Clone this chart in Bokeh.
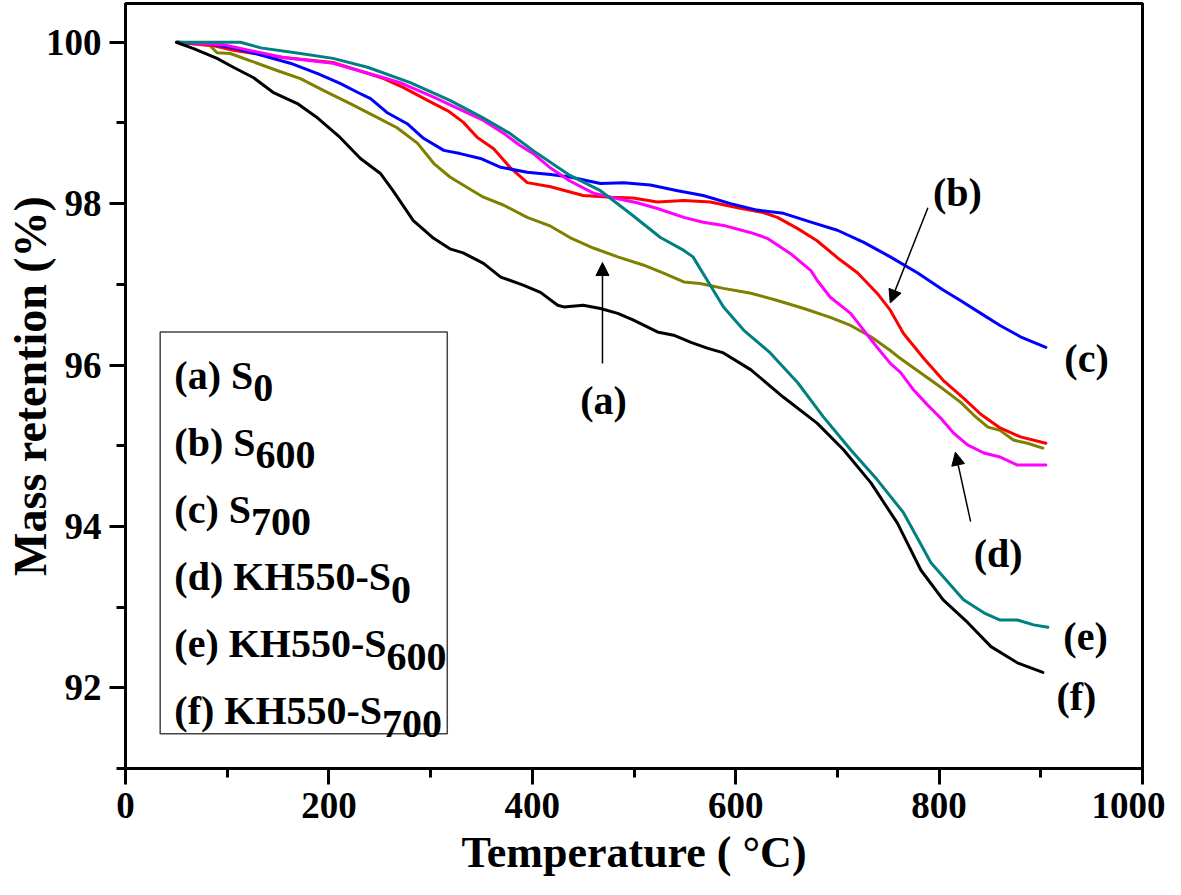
import math
from bokeh.plotting import figure
from bokeh.models import (Range1d, SingleIntervalTicker, Label, BoxAnnotation,
                          Arrow, NormalHead)
from bokeh.embed import file_html
from bokeh.resources import INLINE

# ---------------- data ----------------
temp_a = [51, 83, 90, 103, 123, 149, 172, 195, 221, 244, 267, 287, 303, 319, 336, 352, 372, 395, 418, 437,
          460, 484, 509, 529, 549, 565, 588, 615, 641, 667, 693, 713, 733, 752, 762, 782, 801, 821, 834, 848,
          860, 873, 887, 902]
mass_a = [100.00, 99.96, 99.87, 99.86, 99.77, 99.65, 99.55, 99.40, 99.24, 99.09, 98.94, 98.75, 98.50, 98.33,
          98.20, 98.08, 97.98, 97.83, 97.72, 97.58, 97.45, 97.34, 97.24, 97.14, 97.03, 97.01, 96.95, 96.89,
          96.80, 96.70, 96.59, 96.49, 96.35, 96.18, 96.08, 95.90, 95.73, 95.54, 95.38, 95.23, 95.19, 95.07,
          95.03, 94.97]

temp_b = [51, 86, 106, 155, 204, 254, 273, 297, 317, 332, 346, 362, 378, 395, 418, 450, 477, 499, 523, 549,
          575, 602, 627, 641, 661, 680, 700, 720, 739, 752, 765, 785, 804, 824, 841, 860, 880, 905]
mass_b = [100.00, 99.96, 99.90, 99.81, 99.75, 99.55, 99.44, 99.28, 99.15, 99.01, 98.82, 98.68, 98.45, 98.26,
          98.21, 98.10, 98.08, 98.07, 98.02, 98.04, 98.02, 97.95, 97.89, 97.83, 97.69, 97.54, 97.33, 97.14,
          96.89, 96.68, 96.39, 96.08, 95.81, 95.59, 95.39, 95.22, 95.11, 95.03]

temp_c = [51, 83, 110, 133, 162, 189, 211, 228, 241, 257, 277, 293, 313, 329, 349, 369, 395, 418, 437, 467,
          490, 516, 543, 568, 595, 621, 647, 674, 700, 726, 752, 779, 804, 821, 841, 860, 880, 905]
mass_c = [100.00, 99.98, 99.92, 99.84, 99.74, 99.61, 99.49, 99.38, 99.30, 99.13, 98.99, 98.81, 98.66, 98.62,
          98.56, 98.45, 98.39, 98.36, 98.33, 98.25, 98.26, 98.23, 98.16, 98.10, 98.00, 97.92, 97.88, 97.77,
          97.67, 97.52, 97.34, 97.14, 96.93, 96.80, 96.64, 96.49, 96.35, 96.22]

temp_d = [51, 96, 155, 204, 254, 270, 303, 332, 352, 372, 388, 401, 418, 437, 460, 484, 503, 523, 549, 568,
          588, 615, 631, 654, 674, 680, 693, 713, 726, 739, 752, 762, 775, 789, 801, 814, 828, 844, 860, 877,
          893, 905]
mass_d = [100.00, 99.97, 99.81, 99.74, 99.56, 99.50, 99.32, 99.15, 99.03, 98.87, 98.72, 98.62, 98.44, 98.28,
          98.13, 98.06, 98.01, 97.94, 97.83, 97.77, 97.73, 97.64, 97.57, 97.38, 97.17, 97.05, 96.84, 96.64,
          96.43, 96.22, 96.02, 95.91, 95.69, 95.50, 95.35, 95.16, 95.01, 94.91, 94.86, 94.76, 94.76, 94.76]

temp_e = [51, 113, 133, 172, 204, 238, 280, 319, 352, 378, 405, 437, 467, 496, 526, 549, 558, 572, 588, 608,
          634, 661, 686, 713, 739, 765, 792, 824, 844, 860, 877, 893, 907]
mass_e = [100.00, 100.00, 99.93, 99.86, 99.80, 99.69, 99.50, 99.28, 99.06, 98.87, 98.62, 98.35, 98.16, 97.88,
          97.58, 97.42, 97.34, 97.05, 96.72, 96.43, 96.15, 95.78, 95.36, 94.95, 94.58, 94.17, 93.55, 93.09,
          92.93, 92.84, 92.84, 92.78, 92.75]

temp_f = [50, 67, 90, 106, 126, 145, 169, 189, 211, 231, 251, 263, 283, 303, 319, 332, 352, 369, 391, 408,
          425, 431, 450, 467, 484, 499, 523, 539, 556, 572, 588, 615, 647, 680, 706, 733, 759, 782, 804, 828,
          851, 877, 902]
mass_f = [100.00, 99.92, 99.80, 99.69, 99.56, 99.38, 99.24, 99.06, 98.82, 98.56, 98.37, 98.16, 97.79, 97.57,
          97.44, 97.39, 97.26, 97.09, 96.99, 96.90, 96.74, 96.72, 96.74, 96.70, 96.64, 96.56, 96.41, 96.37,
          96.28, 96.21, 96.15, 95.94, 95.60, 95.28, 94.95, 94.54, 94.04, 93.46, 93.09, 92.81, 92.51, 92.31,
          92.19]

series_tags = ["(a)", "(b)", "(c)", "(d)", "(e)", "(f)"]
legend_main = ["(a) S", "(b) S", "(c) S", "(d) KH550-S", "(e) KH550-S", "(f) KH550-S"]
legend_sub = ["0", "600", "700", "0", "600", "700"]
colors = ["#808000", "#FF0000", "#0000FF", "#FF00FF", "#008080", "#000000"]

x_title = "Temperature ( °C)"
y_title = "Mass retention (%)"

FONT = "Liberation Serif"

# ---------------- figure ----------------
p = figure(width=1165, height=879, output_backend="svg", toolbar_location=None,
           x_range=Range1d(0, 1000), y_range=Range1d(91, 100.48),
           min_border_left=125, min_border_right=23, min_border_top=3, min_border_bottom=110)
p.grid.visible = False
p.background_fill_color = "white"
p.border_fill_color = "white"
p.outline_line_color = "black"
p.outline_line_width = 3
p.outline_line_alpha = 1

p.xaxis.ticker = SingleIntervalTicker(interval=200, num_minor_ticks=2)
p.yaxis.ticker = SingleIntervalTicker(interval=2, num_minor_ticks=2)
for ax in (p.xaxis, p.yaxis):
    ax.axis_line_width = 3
    ax.axis_line_color = "black"
    ax.major_tick_line_width = 3
    ax.minor_tick_line_width = 3
    ax.major_tick_line_color = "black"
    ax.minor_tick_line_color = "black"
    ax.major_tick_in = 0
    ax.minor_tick_in = 0
    ax.major_label_text_font = FONT
    ax.major_label_text_font_style = "bold"
    ax.major_label_text_font_size = "37px"
    ax.major_label_text_color = "black"
    ax.axis_label_text_font = FONT
    ax.axis_label_text_font_style = "bold"
    ax.axis_label_text_color = "black"
p.xaxis.major_tick_out = 16
p.xaxis.minor_tick_out = 9
p.yaxis.major_tick_out = 16
p.yaxis.minor_tick_out = 9
p.xaxis.major_label_standoff = 8
p.yaxis.major_label_standoff = 8

p.xaxis.axis_label = x_title
p.xaxis.axis_label_text_font_size = "44px"
p.xaxis.axis_label_standoff = 7
p.yaxis.axis_label = y_title
p.yaxis.axis_label_text_font_size = "46px"
p.yaxis.axis_label_standoff = -13

# ---------------- curves ----------------
temps = [temp_a, temp_b, temp_c, temp_d, temp_e, temp_f]
masses = [mass_a, mass_b, mass_c, mass_d, mass_e, mass_f]
for t, m, c in zip(temps, masses, colors):
    p.line(t, m, line_color=c, line_width=3, line_join="round", line_cap="round")

# ---------------- legend box ----------------
p.add_layout(BoxAnnotation(left=34.1, right=316.4, top=96.41, bottom=91.43, fill_alpha=0,
                           line_color="#444444", line_width=1.5, line_alpha=1))

# Times/Liberation Serif Bold advance widths (em) for subscript placement
W = {"(": .333, ")": .333, " ": .25, "a": .5, "b": .556, "c": .444, "d": .556, "e": .444, "f": .333,
     "S": .556, "K": .778, "H": .778, "5": .5, "0": .5, "-": .333}
LFS = 40
y0, dy = 95.875, 0.832
for i, (mt, st) in enumerate(zip(legend_main, legend_sub)):
    yy = y0 - i * dy
    p.add_layout(Label(x=48, y=yy, text=mt, text_baseline="alphabetic", text_font=FONT,
                       text_font_style="bold", text_font_size=f"{LFS}px", text_color="black"))
    off = sum(W.get(ch, .5) for ch in mt) * LFS
    p.add_layout(Label(x=48, y=yy, x_offset=off, y_offset=-13, text=st, text_baseline="alphabetic",
                       text_font=FONT, text_font_style="bold", text_font_size=f"{LFS}px", text_color="black"))

# ---------------- curve tags and arrows ----------------
tag_pos = [(470, 95.56), (818, 98.14), (945, 96.08), (858, 93.67), (944, 92.63), (935, 91.89)]
for tag, (tx, ty) in zip(series_tags, tag_pos):
    p.add_layout(Label(x=tx, y=ty, text=tag, text_align="center", text_baseline="alphabetic",
                       text_font=FONT, text_font_style="bold", text_font_size="40px", text_color="black"))

arrows = [((469, 96.02), (469, 97.27)), ((789, 97.95), (752, 96.77)), ((831, 94.06), (816, 94.92))]
for (xs, ys), (xe, ye) in arrows:
    p.add_layout(Arrow(end=NormalHead(size=13, fill_color="black", line_color="black", line_width=1),
                       x_start=xs, y_start=ys, x_end=xe, y_end=ye, line_width=1.5, line_color="black"))

open("out.html", "w").write(file_html(p, INLINE))
